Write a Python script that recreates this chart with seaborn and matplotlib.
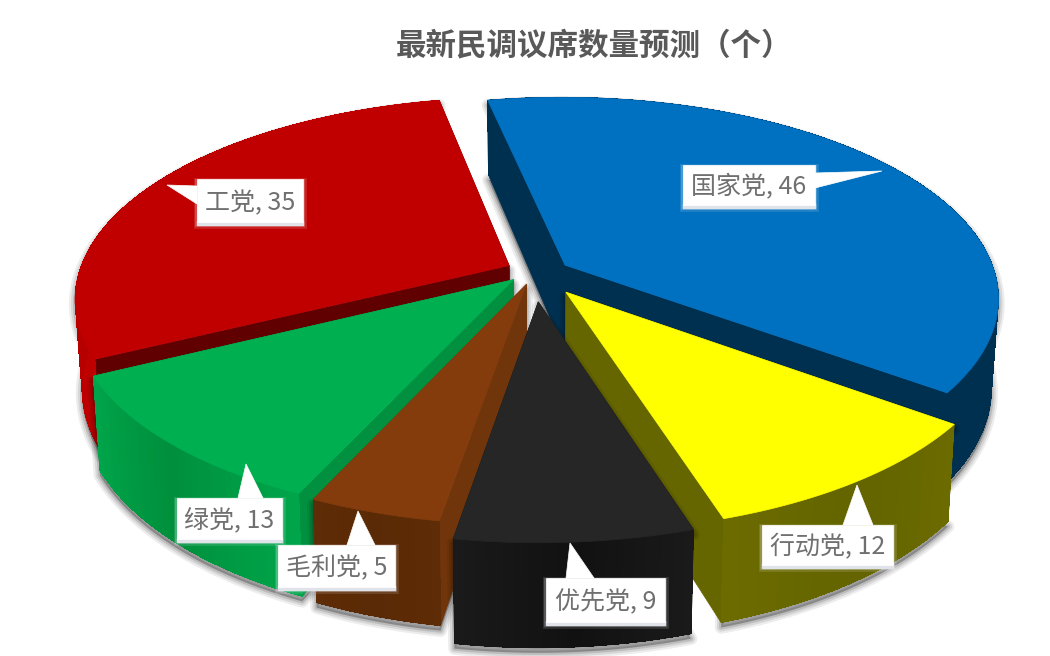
# 3D style exploded pie of the latest poll seat forecast
import numpy as np
import matplotlib
matplotlib.use('Agg')
import matplotlib.pyplot as plt
import seaborn as sns

# --------------
# Data
# --------------
parties = ['国家党', '行动党', '优先党', '毛利党', '绿党', '工党']
seats = [46, 12, 9, 5, 13, 35]
title = '最新民调议席数量预测（个）'

top_colors = ['#0070C0', '#FFFF00', '#262626', '#843C0C', '#00B050', '#C00000']
cut_colors = ['#003050', '#666600', '#141414', '#70350A', '#009040', '#600000']
wall_edge = ['#003050', '#6B6B00', '#1A1A1A', '#5E2C06', '#00A54A', '#C00000']
wall_mid = ['#003050', '#646400', '#111111', '#5A2A06', '#008F3C', '#A80000']

# --------------
# Projection set up
# --------------
start_angle = -11.5
center_x, center_y = 539, 276
radius_x, radius_y = 430, 197
perspective = 0.16
depth = 87
explode = 0.075
# each slice sits a little off the common explode, in pixels
nudge_x = [-1, 8, -3, -3, -3, -1]
nudge_y = [-3, 4, 11, -6, -7, -4]

# label boxes: x0, y0, x1, y1, then the tail base and tip
label_boxes = [
    (683, 165, 815, 208, [(815, 173), (815, 188)], (882, 171)),
    (762, 525, 893, 568, [(843, 525), (873, 525)], (857, 485)),
    (546, 578, 665, 625, [(566, 578), (594, 578)], (570, 543)),
    (278, 545, 395, 590, [(347, 545), (375, 545)], (358, 511)),
    (177, 498, 282, 542, [(238, 498), (263, 498)], (246, 464)),
    (197, 179, 303, 225, [(197, 186), (197, 204)], (167, 185)),
]
draw_order = [5, 0, 4, 1, 3, 2]


def project(i, u, v, bottom=False):
    # unit disc coordinates to picture pixels
    den = 1 + perspective * v
    if bottom:
        x = center_x + radius_x * 0.985 * u / den
        y = center_y - radius_y * v / den + depth / den
    else:
        x = center_x + radius_x * u / den
        y = center_y - radius_y * v / den
    return x + nudge_x[i], y + nudge_y[i]


sns.set_theme(style='white')
plt.rcParams['font.family'] = ['Noto Sans CJK SC', 'DejaVu Sans']

fig, ax = plt.subplots(figsize=(10.5, 6.56), dpi=100)
ax.set_position([0, 0, 1, 1])
ax.set_xlim(0, 1050)
ax.set_ylim(656, 0)
ax.axis('off')

shares = np.array(seats) / sum(seats) * 360
ends = start_angle + np.cumsum(shares)
starts = ends - shares


def slice_shape(i):
    theta = np.radians(np.linspace(starts[i], ends[i], 80))
    mid = np.radians((starts[i] + ends[i]) / 2)
    off_u, off_v = explode * np.sin(mid), explode * np.cos(mid)
    return off_u, off_v, off_u + np.sin(theta), off_v + np.cos(theta)


def draw_slice(i):
    off_u, off_v, arc_u, arc_v = slice_shape(i)
    apex_top = project(i, off_u, off_v)
    apex_bot = project(i, off_u, off_v, True)
    top_x, top_y = project(i, arc_u, arc_v)
    bot_x, bot_y = project(i, arc_u, arc_v, True)

    # soft shadow under the silhouette
    hull_x = np.r_[apex_top[0], top_x, bot_x[::-1], apex_bot[0]]
    hull_y = np.r_[apex_top[1], top_y, bot_y[::-1], apex_bot[1]] + 5
    for lw, alpha in [(9, 0.07), (6, 0.09), (3, 0.13)]:
        ax.fill(hull_x, hull_y, facecolor='black', edgecolor='black',
                alpha=alpha, lw=lw, joinstyle='round')

    # the two cut faces
    for k in [0, -1]:
        ax.fill([apex_top[0], top_x[k], bot_x[k], apex_bot[0]],
                [apex_top[1], top_y[k], bot_y[k], apex_bot[1]],
                color=cut_colors[i], lw=0.5)

    # outer wall: a base shape, then strips with no antialiasing to keep it smooth
    ax.fill(np.r_[top_x, bot_x[::-1]], np.r_[top_y, bot_y[::-1]],
            color=wall_edge[i], lw=0.5)
    n = len(top_x) - 1
    ramp = sns.blend_palette([wall_edge[i], wall_mid[i], wall_edge[i]], n)
    for k in range(n):
        ax.fill([top_x[k], top_x[k + 1], bot_x[k + 1], bot_x[k]],
                [top_y[k], top_y[k + 1], bot_y[k + 1], bot_y[k]],
                color=ramp[k], lw=0, antialiased=False)

    # top surface
    ax.fill(np.r_[apex_top[0], top_x], np.r_[apex_top[1], top_y],
            color=top_colors[i], lw=0.5)


def draw_label(i):
    x0, y0, x1, y1, base, tip = label_boxes[i]
    tail_x = [base[0][0], tip[0], base[1][0]]
    tail_y = [base[0][1], tip[1], base[1][1]]
    # blurred rim of the callout
    for lw, alpha in [(5, 0.12), (3, 0.2)]:
        ax.fill([x0, x1, x1, x0], [y0 + 2, y0 + 2, y1, y1],
                facecolor='white', edgecolor='white', alpha=alpha, lw=lw,
                zorder=3)
    ax.fill([x0, x1, x1, x0], [y1 - 4, y1 - 4, y1, y1],
            color='#E1E3EA', lw=1, zorder=3)
    ax.fill([x0, x1, x1, x0], [y0, y0, y1 - 3, y1 - 3],
            color='white', lw=0.5, zorder=4)
    ax.fill(tail_x, tail_y, color='white', lw=0.5, zorder=4)
    ax.text((x0 + x1) / 2, (y0 + y1) / 2 + 1, f'{parties[i]}, {seats[i]}',
            ha='center', va='center', fontsize=18, color='#707070', zorder=5)


# --------------
# Draw back to front
# --------------
for i in draw_order:
    draw_slice(i)
for i in range(len(parties)):
    draw_label(i)

ax.text(594, 45, title, ha='center', va='center', fontsize=22,
        fontweight='bold', color='#595959')

fig.savefig('out.png', dpi=100)
plt.close(fig)
print('// complete ....... figure: out.png')
